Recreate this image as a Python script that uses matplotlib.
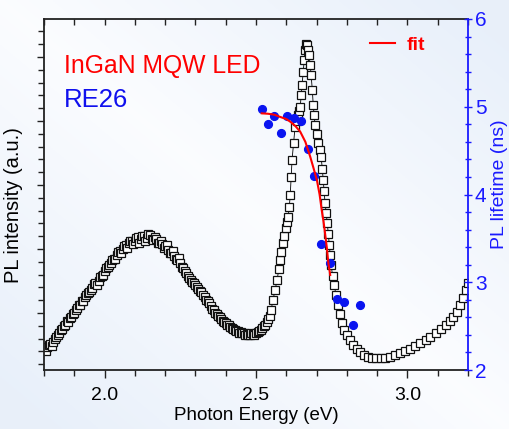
import numpy as np
import matplotlib
matplotlib.use("Agg")
import matplotlib.pyplot as plt
from matplotlib.ticker import MultipleLocator, FixedLocator
from matplotlib.lines import Line2D

plt.rcParams['font.family'] = ['Liberation Sans', 'DejaVu Sans']

# ---------------- data ----------------
energy = [1.80, 1.805, 1.81, 1.815, 1.82, 1.825, 1.83, 1.835, 1.84, 1.845, 1.85, 1.855, 1.86, 1.865,
          1.87, 1.875, 1.88, 1.885, 1.89, 1.895, 1.90, 1.905, 1.91, 1.915, 1.92, 1.925, 1.93, 1.935,
          1.94, 1.945, 1.95, 1.955, 1.96, 1.965, 1.97, 1.975, 1.98, 1.985, 1.99, 1.995, 2.00, 2.005,
          2.01, 2.015, 2.02, 2.025, 2.03, 2.035, 2.04, 2.045, 2.05, 2.055, 2.06, 2.065, 2.07, 2.075,
          2.08, 2.085, 2.09, 2.095, 2.10, 2.105, 2.11, 2.115, 2.12, 2.125, 2.13, 2.135, 2.14, 2.145,
          2.15, 2.155, 2.16, 2.165, 2.17, 2.175, 2.18, 2.185, 2.19, 2.195, 2.20, 2.205, 2.21, 2.215,
          2.22, 2.225, 2.23, 2.235, 2.24, 2.245, 2.25, 2.255, 2.26, 2.265, 2.27, 2.275, 2.28, 2.285,
          2.29, 2.295, 2.30, 2.305, 2.31, 2.315, 2.32, 2.325, 2.33, 2.335, 2.34, 2.345, 2.35, 2.355,
          2.36, 2.365, 2.37, 2.375, 2.38, 2.385, 2.39, 2.395, 2.40, 2.405, 2.41, 2.415, 2.42, 2.425,
          2.43, 2.435, 2.44, 2.445, 2.45, 2.455, 2.46, 2.465, 2.47, 2.475, 2.48, 2.485, 2.49, 2.495,
          2.50, 2.505, 2.51, 2.515, 2.52, 2.525, 2.53, 2.535, 2.54, 2.545, 2.55,
          2.556, 2.563, 2.570, 2.575, 2.579, 2.584, 2.589, 2.594, 2.599, 2.603, 2.606, 2.610, 2.613,
          2.616, 2.619, 2.624, 2.629, 2.634, 2.639, 2.642, 2.646, 2.649, 2.652, 2.656, 2.659, 2.662,
          2.666, 2.669, 2.672, 2.675, 2.679, 2.682, 2.686, 2.689, 2.692, 2.695, 2.700, 2.705, 2.710,
          2.715, 2.719, 2.722, 2.725, 2.728, 2.732, 2.735, 2.739, 2.742, 2.745, 2.748, 2.753, 2.758,
          2.764, 2.771, 2.778, 2.785, 2.792, 2.801, 2.810, 2.821, 2.832, 2.844, 2.857, 2.871, 2.884,
          2.897, 2.912, 2.927, 2.943, 2.960, 2.976, 2.993, 3.010, 3.026, 3.043, 3.060, 3.076, 3.093,
          3.110, 3.126, 3.140, 3.152, 3.164, 3.175, 3.184, 3.192, 3.200]
intensity = [0.43, 0.40, 0.47, 0.50, 0.52, 0.49, 0.55, 0.60, 0.63, 0.66, 0.69, 0.74, 0.75, 0.80,
             0.82, 0.88, 0.86, 0.92, 0.93, 0.98, 1.00, 1.05, 1.08, 1.12, 1.13, 1.18, 1.19, 1.25,
             1.28, 1.31, 1.33, 1.36, 1.39, 1.45, 1.47, 1.44, 1.50, 1.56, 1.58, 1.60, 1.65, 1.70,
             1.72, 1.75, 1.78, 1.83, 1.85, 1.84, 1.90, 1.96, 1.97, 1.93, 2.00, 2.05, 2.06, 2.02,
             2.09, 2.13, 2.13, 2.08, 2.12, 2.17, 2.18, 2.10, 2.15, 2.21, 2.20, 2.12, 2.17, 2.23,
             2.22, 2.16, 2.14, 2.19, 2.16, 2.09, 2.10, 2.13, 2.08, 2.02, 2.04, 2.07, 1.99, 1.94,
             1.93, 1.97, 1.89, 1.85, 1.83, 1.86, 1.78, 1.72, 1.70, 1.65, 1.62, 1.58, 1.55, 1.52,
             1.49, 1.47, 1.44, 1.40, 1.38, 1.35, 1.33, 1.28, 1.25, 1.21, 1.18, 1.15, 1.11, 1.07,
             1.04, 1.00, 0.98, 0.95, 0.94, 0.90, 0.88, 0.86, 0.84, 0.82, 0.81, 0.78, 0.77, 0.75,
             0.74, 0.72, 0.72, 0.69, 0.70, 0.68, 0.68, 0.66, 0.67, 0.65, 0.66, 0.68, 0.67, 0.65,
             0.68, 0.70, 0.72, 0.74, 0.76, 0.79, 0.82, 0.86, 0.90, 0.96, 1.05,
             1.20, 1.36, 1.52, 1.68, 1.83, 1.96, 2.09, 2.21, 2.33, 2.42, 2.50, 2.66, 2.84,
             3.12, 3.39, 3.65, 3.91, 4.00, 4.09, 4.15, 4.22, 4.40, 4.56, 4.77, 4.95, 5.11,
             5.20, 5.19, 5.11, 5.03, 4.88, 4.72, 4.48, 4.25, 4.09, 3.94, 3.80, 3.66, 3.55,
             3.44, 3.25, 3.08, 2.90, 2.72, 2.56, 2.41, 2.23, 2.06, 1.90, 1.75, 1.58, 1.44,
             1.28, 1.13, 0.98, 0.84, 0.74, 0.66, 0.57, 0.50, 0.44, 0.39, 0.35, 0.31, 0.30,
             0.30, 0.29, 0.30, 0.31, 0.34, 0.37, 0.41, 0.44, 0.48, 0.53, 0.58, 0.63, 0.69,
             0.75, 0.81, 0.88, 0.94, 1.02, 1.12, 1.24, 1.36, 1.47]

lt_energy = [2.519, 2.539, 2.561, 2.582, 2.604, 2.626, 2.648, 2.671, 2.693, 2.715, 2.743,
             2.767, 2.792, 2.819, 2.842]
lifetime = [4.97, 4.80, 4.90, 4.70, 4.89, 4.87, 4.84, 4.52, 4.21, 3.44, 3.22,
            2.81, 2.77, 2.51, 2.74]

fit_energy = [2.519, 2.540, 2.560, 2.579, 2.600, 2.613, 2.630, 2.646, 2.663, 2.679, 2.690,
              2.701, 2.710, 2.717, 2.723, 2.728, 2.734, 2.739, 2.745]
fit_lifetime = [4.925, 4.920, 4.910, 4.885, 4.860, 4.830, 4.780, 4.716, 4.600, 4.431, 4.300,
                4.165, 4.000, 3.823, 3.690, 3.558, 3.390, 3.216, 3.083]

xticks_major = [2.0, 2.5, 3.0]
xtick_labels = ["2.0", "2.5", "3.0"]
rticks = [2, 3, 4, 5, 6]
rtick_labels = ["2", "3", "4", "5", "6"]

title1 = "InGaN MQW LED"
title2 = "RE26"

# ---------------- figure ----------------
W, H = 509, 429
fig = plt.figure(figsize=(W / 100, H / 100), dpi=100)

# slide-like soft background gradient
bg = fig.add_axes([0, 0, 1, 1], zorder=-10)
yy, xx = np.mgrid[0:1:200j, 0:1:240j]
d = np.abs((xx + (1 - yy)) - 1.0)
c_edge = np.array([0.91, 0.94, 0.98])
c_mid = np.array([0.985, 0.99, 1.0])
t = np.clip(d / 0.9, 0, 1)[..., None]
img = c_mid * (1 - t) + c_edge * t
bg.imshow(img, aspect='auto', extent=[0, 1, 0, 1], origin='upper')
bg.axis('off')
fig.patch.set_facecolor('#f2f6fc')

L, R, B, T = 44, 468, 370, 19
ax = fig.add_axes([L / W, (H - B) / H, (R - L) / W, (B - T) / H])
ax.set_facecolor('none')
ax2 = ax.twinx()
ax2.set_facecolor('none')

ax.plot(energy, intensity, color='black', lw=0.6, marker='s', ms=5.3,
        mfc='white', mec='#111111', mew=0.9, zorder=2)

ax.set_xlim(1.8, 3.2)
ax.set_ylim(0.109, 5.594)

ax.xaxis.set_major_locator(FixedLocator(xticks_major))
ax.set_xticklabels(xtick_labels)
ax.xaxis.set_minor_locator(MultipleLocator(0.1))
ax.yaxis.set_major_locator(MultipleLocator(1.0))
ax.yaxis.set_minor_locator(MultipleLocator(0.2))
ax.tick_params(axis='y', which='both', direction='out', left=True, right=False,
               labelleft=False, color='#222222')
ax.tick_params(axis='y', which='major', length=5, width=1.0)
ax.tick_params(axis='y', which='minor', length=4, width=1.0)
ax.tick_params(axis='x', which='both', direction='out', bottom=True, top=False,
               labelsize=14, color='#222222', pad=6.5)
ax.tick_params(axis='x', which='major', length=6, width=1.0)
ax.tick_params(axis='x', which='minor', length=4, width=1.0)

# top ticks (inward) via secondary axis
axt = ax.secondary_xaxis('top')
axt.xaxis.set_major_locator(MultipleLocator(0.1))
axt.tick_params(axis='x', which='major', direction='in', length=4, width=1.0,
                labeltop=False, color='#222222')
axt.spines['top'].set_visible(False)

for s in ['left', 'bottom', 'top']:
    ax.spines[s].set_color('#222222')
    ax.spines[s].set_linewidth(1.3)
ax.spines['right'].set_visible(False)

ax.set_xlabel("Photon Energy (eV)", fontsize=13.5)
ax.xaxis.set_label_coords(0.5, -0.105)
ax.set_ylabel("PL intensity (a.u.)", fontsize=14.5)
ax.yaxis.set_label_coords(-0.05, 0.47)

# lifetime axis
blue = '#1a1aff'
ax2.plot(lt_energy, lifetime, 'o', color='#0a14f0', ms=5.6, zorder=3)
ax2.plot(fit_energy, fit_lifetime, '-', color='#ff0000', lw=1.5, zorder=4)
ax2.set_ylim(2, 6)
ax2.yaxis.set_major_locator(FixedLocator(rticks))
ax2.set_yticklabels(rtick_labels)
ax2.yaxis.set_minor_locator(MultipleLocator(0.2))
ax2.tick_params(axis='y', which='both', direction='inout', colors=blue,
                labelsize=15, pad=2)
ax2.tick_params(axis='y', which='major', length=6, width=1.0)
ax2.tick_params(axis='y', which='minor', length=5, width=1.0)
for s in ['left', 'bottom', 'top']:
    ax2.spines[s].set_visible(False)
ax2.spines['right'].set_color(blue)
ax2.spines['right'].set_linewidth(1.3)
ax2.set_ylabel("PL lifetime (ns)", fontsize=14, color=blue)
ax2.yaxis.set_label_coords(1.055, 0.53)

# annotations
ax.text(0.047, 0.846, title1, transform=ax.transAxes, color='#ff0000',
        fontsize=17.8, ha='left', va='baseline')
ax.text(0.047, 0.749, title2, transform=ax.transAxes, color='#1010ee',
        fontsize=18.5, ha='left', va='baseline')

handle = Line2D([], [], color='#ff0000', lw=1.5)
leg = ax2.legend([handle], ["fit"], loc='center left',
                 bbox_to_anchor=(370 / W, (H - 45) / H), bbox_transform=fig.transFigure,
                 frameon=False, borderaxespad=0, borderpad=0, handlelength=1.3,
                 handletextpad=0.6, prop={'weight': 'bold', 'size': 14})
for txt in leg.get_texts():
    txt.set_color('#ff0000')

fig.savefig("out.png", dpi=100, facecolor=fig.get_facecolor())
